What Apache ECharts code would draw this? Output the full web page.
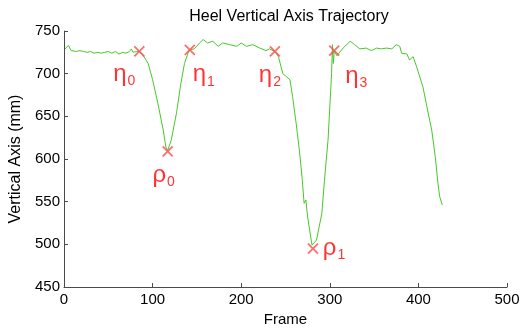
<!DOCTYPE html>
<html>
<head>
<meta charset="utf-8">
<script src="https://cdn.jsdelivr.net/npm/echarts@6/dist/echarts.min.js"></script>
<style>
  html, body { margin: 0; padding: 0; background: #fff; }
  #chart { width: 526px; height: 329px; }
</style>
</head>
<body>
<div id="chart"></div>
<script>
// Heel marker height over the recorded frames
const frames = [
  1, 5, 8, 10, 14, 18, 22, 26, 30, 34, 38, 42, 46, 50, 54, 58, 62, 66, 70, 74, 76, 78, 82, 85,
  89, 95, 100, 106, 112, 115, 117, 121, 127, 132, 136, 140, 142,
  147, 153, 157, 162, 168, 174, 179, 187, 195, 200, 206, 213, 221, 228, 232, 238,
  242, 247, 255, 258, 262, 266, 269, 271, 273, 275, 279, 280, 285, 291, 294, 298, 300, 302, 303, 304, 305,
  308, 315, 323, 328, 334, 341, 347, 353, 358, 364, 370, 375, 379, 381, 387, 390, 394, 398,
  405, 411, 415, 419, 422, 424, 427
];
const heights = [
  729, 733, 727, 727, 726, 727, 726, 725, 726, 724, 725, 724, 725, 726, 724, 726, 723, 725, 724, 726, 729, 725, 726, 726,
  722, 712, 693, 665, 634, 614, 610, 622, 654, 689, 712, 724, 728,
  729, 736, 740, 736, 738, 732, 736, 734, 732, 736, 732, 734, 730, 727, 729, 726,
  720, 700, 693, 673, 642, 607, 575, 548, 552, 532, 505, 499, 505, 536, 575, 622, 661, 700, 734, 712, 727,
  721, 730, 738, 734, 729, 730, 727, 730, 729, 730, 729, 734, 732, 724, 723, 716, 720, 708,
  685, 654, 634, 603, 572, 556, 546
];

// Gait events: η = heel at rest, ρ = lowest point of the swing
const eventFrames  = [85, 117, 142, 238, 281, 305];
const eventHeights = [726, 609, 728, 726, 495, 727];
const eventSymbols = ['η', 'ρ', 'η', 'η', 'ρ', 'η'];
const eventIndex   = ['0', '0', '1', '2', '1', '3'];

const xTicks = { min: 0, max: 500, step: 100 };
const yTicks = { min: 450, max: 750, step: 50 };

// label placement around each cross (pixels from its centre)
const labelShift = [[-15, 23], [-4, 24], [14, 25], [-5, 24], [21, 0], [22, 26]];

const chart = echarts.init(document.getElementById('chart'), null, { renderer: 'canvas' });
const font = 'Liberation Sans, Arial, sans-serif';

const curve = frames.map((f, i) => [f, heights[i]]);
const events = eventFrames.map((f, i) => ({
  value: [f, eventHeights[i]],
  label: { offset: labelShift[i] },
  name: eventSymbols[i] + '_' + eventIndex[i]
}));

const axisLine = { show: true, lineStyle: { color: '#4a4a4a', width: 1 } };
const tick = { show: true, inside: true, length: 4, lineStyle: { color: '#4a4a4a' } };

chart.setOption({
  animation: false,
  title: {
    text: 'Heel Vertical Axis Trajectory',
    left: 284, top: 4, textAlign: 'center',
    textStyle: { fontFamily: font, fontSize: 16, fontWeight: 'normal', color: '#000' }
  },
  grid: { left: 64, right: 19, top: 31, bottom: 42, containLabel: false, outerBoundsMode: 'none' },
  xAxis: {
    type: 'value', min: xTicks.min, max: xTicks.max, interval: xTicks.step,
    name: 'Frame', nameLocation: 'middle', nameGap: 25,
    nameTextStyle: { fontFamily: font, fontSize: 15, color: '#000' },
    axisLine: axisLine,
    axisTick: tick,
    axisLabel: { fontFamily: font, fontSize: 15, color: '#000', margin: 5 },
    splitLine: { show: false }
  },
  yAxis: {
    type: 'value', min: yTicks.min, max: yTicks.max, interval: yTicks.step,
    name: 'Vertical Axis (mm)', nameLocation: 'middle', nameGap: 38, nameRotate: 90,
    nameTextStyle: { fontFamily: font, fontSize: 16, color: '#000' },
    axisLine: axisLine,
    axisTick: tick,
    axisLabel: { fontFamily: font, fontSize: 15, color: '#000', margin: 4 },
    splitLine: { show: false }
  },
  series: [
    {
      type: 'line',
      data: curve,
      showSymbol: false,
      smooth: false,
      lineStyle: { color: '#44c828', width: 1 },
      z: 2
    },
    {
      type: 'scatter',
      data: events,
      symbol: 'path://M0,0L10,10M10,0L0,10',
      symbolSize: 10,
      itemStyle: { color: 'rgba(0,0,0,0)', borderColor: '#ff4a4a', borderWidth: 1.8 },
      z: 3,
      label: {
        show: true,
        position: 'inside',
        align: 'center',
        verticalAlign: 'middle',
        formatter: p => {
          const [sym, idx] = p.name.split('_');
          return '{g|' + sym + '}{s|' + idx + '}';
        },
        rich: {
          g: { fontFamily: font, fontSize: 24, color: '#ff0000', lineHeight: 26, verticalAlign: 'middle' },
          s: { fontFamily: font, fontSize: 14, color: '#ff0000', lineHeight: 14, padding: [14, 0, 0, 1], verticalAlign: 'middle' }
        }
      }
    }
  ]
});
</script>
</body>
</html>
